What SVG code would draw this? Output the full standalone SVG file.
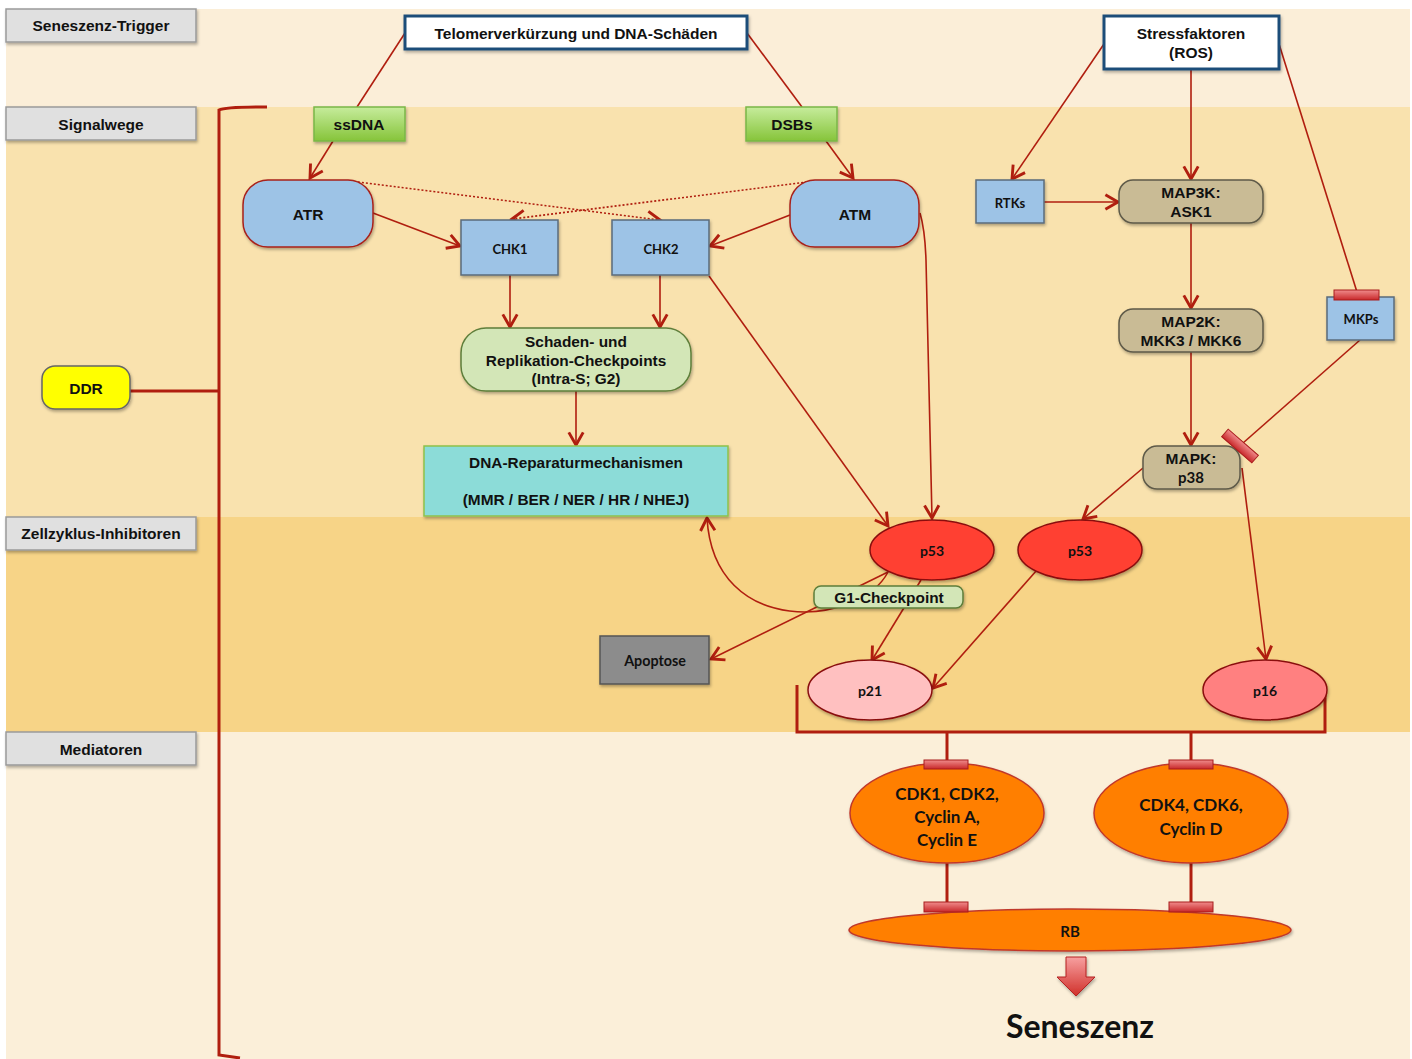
<svg xmlns="http://www.w3.org/2000/svg" width="1412" height="1059" viewBox="0 0 1412 1059">
<defs>
<style>
.lbl{fill:#E0E0E0;stroke:#9A9A9A;stroke-width:1.5}
.t{font-family:"Liberation Sans",Arial,sans-serif;font-weight:bold;fill:#111;text-anchor:middle}
.c{font-family:Lato,"Open Sans",sans-serif;font-weight:bold;fill:#111;text-anchor:middle}
.ln{stroke:#B01E0F;stroke-width:1.6;fill:none}
.blue{fill:#9DC3E6;stroke:#5B6B7B;stroke-width:1.5}
.tan{fill:#C9BB95;stroke:#5E5A48;stroke-width:1.5}
.green{fill:#D3E6B7;stroke:#5E7E3A;stroke-width:1.5}
.red{fill:#FF4133;stroke:#8A0F0F;stroke-width:1.5}
.org{fill:#FF7F00;stroke:#C0392B;stroke-width:1.5}
.bar{fill:url(#barg);stroke:#A81C1C;stroke-width:1}
</style>
<linearGradient id="gg" x1="0" y1="0" x2="0" y2="1"><stop offset="0" stop-color="#C6EC9C"/><stop offset="1" stop-color="#86C43A"/></linearGradient>
<linearGradient id="barg" x1="0" y1="0" x2="0" y2="1"><stop offset="0" stop-color="#F08C8C"/><stop offset="1" stop-color="#C8282A"/></linearGradient>
<linearGradient id="bigarr" x1="0" y1="0" x2="0" y2="1"><stop offset="0" stop-color="#F7A0A0"/><stop offset="1" stop-color="#D0302A"/></linearGradient>
<filter id="sh" x="-10%" y="-10%" width="130%" height="140%"><feDropShadow dx="1" dy="2" stdDeviation="1.5" flood-color="#000" flood-opacity="0.3"/></filter>
<marker id="ar" viewBox="0 0 20 20" refX="17" refY="10" markerWidth="18" markerHeight="18" markerUnits="userSpaceOnUse" orient="auto">
<path d="M3,2 L17,10 L3,18" fill="none" stroke="#B01E0F" stroke-width="3.2" stroke-linejoin="miter"/>
</marker>
</defs>
<rect x="0" y="0" width="1412" height="1059" fill="#FFFFFF"/>
<rect x="6" y="9" width="1404" height="98" fill="#FBEED8"/>
<rect x="6" y="107" width="1404" height="410" fill="#F9E2AE"/>
<rect x="6" y="517" width="1404" height="215" fill="#F7D487"/>
<rect x="6" y="732" width="1404" height="327" fill="#FBEFD9"/>

<g id="labels">
<g id="lbl-trigger"><rect class="lbl" x="6" y="9" width="190" height="33" filter="url(#sh)"/><text class="t" x="101" y="31" font-size="15.5">Seneszenz-Trigger</text></g>
<g id="lbl-signal"><rect class="lbl" x="6" y="107" width="190" height="33" filter="url(#sh)"/><text class="t" x="101" y="130" font-size="15.5">Signalwege</text></g>
<g id="lbl-zell"><rect class="lbl" x="6" y="517" width="190" height="33" filter="url(#sh)"/><text class="t" x="101" y="539" font-size="15.5">Zellzyklus-Inhibitoren</text></g>
<g id="lbl-med"><rect class="lbl" x="6" y="732" width="190" height="33" filter="url(#sh)"/><text class="t" x="101" y="755" font-size="15.5">Mediatoren</text></g>
</g>

<g id="connectors">
<path d="M267,107 Q225,107 219,110 L219,1055 L240,1058" fill="none" stroke="#B01E0F" stroke-width="3"/>
<line x1="130" y1="391" x2="219" y2="391" stroke="#B01E0F" stroke-width="3"/>
<line class="ln" x1="405" y1="33" x2="357" y2="107"/>
<line class="ln" x1="333" y1="141" x2="310" y2="178" marker-end="url(#ar)"/>
<line class="ln" x1="747" y1="33" x2="802" y2="107"/>
<line class="ln" x1="826" y1="141" x2="853" y2="178" marker-end="url(#ar)"/>
<line class="ln" x1="373" y1="213" x2="460" y2="246" marker-end="url(#ar)"/>
<line class="ln" x1="790" y1="215" x2="710" y2="246" marker-end="url(#ar)"/>
<line class="ln" x1="350" y1="181" x2="660" y2="220" stroke-dasharray="2,2" marker-end="url(#ar)"/>
<line class="ln" x1="815" y1="181" x2="512" y2="219" stroke-dasharray="2,2" marker-end="url(#ar)"/>
<line class="ln" x1="510" y1="275" x2="510" y2="327" marker-end="url(#ar)"/>
<line class="ln" x1="660" y1="275" x2="660" y2="327" marker-end="url(#ar)"/>
<line class="ln" x1="576" y1="391" x2="576" y2="445" marker-end="url(#ar)"/>
<line class="ln" x1="709" y1="276" x2="888" y2="526" marker-end="url(#ar)"/>
<path class="ln" d="M920,213 Q925,230 926,260 L932,518" marker-end="url(#ar)"/>
<path class="ln" d="M888,572 C860,626 714,640 707,518" marker-end="url(#ar)"/>
<line class="ln" x1="888" y1="572" x2="711" y2="659" marker-end="url(#ar)"/>
<line class="ln" x1="921" y1="580" x2="872" y2="660" marker-end="url(#ar)"/>
<line class="ln" x1="1037" y1="570" x2="933" y2="688" marker-end="url(#ar)"/>
<line class="ln" x1="1143" y1="468" x2="1083" y2="519" marker-end="url(#ar)"/>
<line class="ln" x1="1242" y1="468" x2="1266" y2="659" marker-end="url(#ar)"/>
<line class="ln" x1="1104" y1="44" x2="1012" y2="179" marker-end="url(#ar)"/>
<line class="ln" x1="1191" y1="69" x2="1191" y2="179" marker-end="url(#ar)"/>
<line class="ln" x1="1279" y1="44" x2="1357" y2="292"/>
<line class="ln" x1="1044" y1="202" x2="1118" y2="202" marker-end="url(#ar)"/>
<line class="ln" x1="1191" y1="223" x2="1191" y2="308" marker-end="url(#ar)"/>
<line class="ln" x1="1191" y1="352" x2="1191" y2="445" marker-end="url(#ar)"/>
<line class="ln" x1="1360" y1="340" x2="1243" y2="443"/>
<path d="M797,685 L797,732 L1325,732 L1325,690" fill="none" stroke="#B01E0F" stroke-width="3"/>
<line x1="947" y1="732" x2="947" y2="762" stroke="#B01E0F" stroke-width="3"/>
<line x1="1191" y1="732" x2="1191" y2="762" stroke="#B01E0F" stroke-width="3"/>
<line x1="947" y1="863" x2="947" y2="905" stroke="#B01E0F" stroke-width="3"/>
<line x1="1191" y1="863" x2="1191" y2="905" stroke="#B01E0F" stroke-width="3"/>
</g>

<g id="n-telomer"><rect x="405" y="16" width="342" height="33" fill="#FFFFFF" stroke="#1F4E79" stroke-width="3" filter="url(#sh)"/><text class="t" x="576" y="39" font-size="15.5">Telomerverkürzung und DNA-Schäden</text></g>
<g id="n-stress"><rect x="1104" y="16" width="175" height="53" fill="#FFFFFF" stroke="#1F4E79" stroke-width="3" filter="url(#sh)"/><text class="t" x="1191" y="39" font-size="15.5">Stressfaktoren</text><text class="t" x="1191" y="58" font-size="15.5">(ROS)</text></g>
<g id="n-ssdna"><rect x="314" y="107" width="91" height="34" fill="url(#gg)" stroke="#7AB648" stroke-width="1.5" filter="url(#sh)"/><text class="t" x="359" y="130" font-size="15.5">ssDNA</text></g>
<g id="n-dsbs"><rect x="746" y="107" width="91" height="34" fill="url(#gg)" stroke="#7AB648" stroke-width="1.5" filter="url(#sh)"/><text class="t" x="792" y="130" font-size="15.5">DSBs</text></g>
<g id="n-atr"><rect x="243" y="180" width="130" height="67" rx="25" fill="#9DC3E6" stroke="#A8201A" stroke-width="1.5" filter="url(#sh)"/><text class="t" x="308" y="220" font-size="15.5">ATR</text></g>
<g id="n-atm"><rect x="790" y="180" width="129" height="67" rx="25" fill="#9DC3E6" stroke="#A8201A" stroke-width="1.5" filter="url(#sh)"/><text class="t" x="855" y="220" font-size="15.5">ATM</text></g>
<g id="n-chk1"><rect class="blue" x="461" y="220" width="97" height="55" filter="url(#sh)"/><text class="c" x="510" y="254" font-size="13">CHK1</text></g>
<g id="n-chk2"><rect class="blue" x="612" y="220" width="97" height="55" filter="url(#sh)"/><text class="c" x="661" y="254" font-size="13">CHK2</text></g>
<g id="n-checkpoints"><rect class="green" x="461" y="328" width="230" height="63" rx="25" filter="url(#sh)"/><text class="t" x="576" y="347" font-size="15.4">Schaden- und</text><text class="t" x="576" y="366" font-size="15.4">Replikation-Checkpoints</text><text class="t" x="576" y="384" font-size="15.4">(Intra-S; G2)</text></g>
<g id="n-repair"><rect x="424" y="446" width="304" height="70" fill="#8CDCD8" stroke="#8FC14A" stroke-width="1.5" filter="url(#sh)"/><text class="t" x="576" y="468" font-size="15.4">DNA-Reparaturmechanismen</text><text class="t" x="576" y="505" font-size="15.4">(MMR / BER / NER / HR / NHEJ)</text></g>
<g id="n-ddr"><rect x="42" y="366" width="88" height="43" rx="13" fill="#FFFF00" stroke="#666" stroke-width="1.5" filter="url(#sh)"/><text class="t" x="86" y="394" font-size="15.5">DDR</text></g>
<g id="n-rtks"><rect class="blue" x="976" y="180" width="68" height="43" filter="url(#sh)"/><text class="c" x="1010" y="208" font-size="13">RTKs</text></g>
<g id="n-map3k"><rect class="tan" x="1119" y="180" width="144" height="43" rx="14" filter="url(#sh)"/><text class="t" x="1191" y="198" font-size="15.5">MAP3K:</text><text class="t" x="1191" y="217" font-size="15.5">ASK1</text></g>
<g id="n-map2k"><rect class="tan" x="1119" y="309" width="144" height="43" rx="14" filter="url(#sh)"/><text class="t" x="1191" y="327" font-size="15.5">MAP2K:</text><text class="t" x="1191" y="346" font-size="15.5">MKK3 / MKK6</text></g>
<g id="n-mapk"><rect class="tan" x="1143" y="446" width="97" height="43" rx="14" filter="url(#sh)"/><text class="t" x="1191" y="464" font-size="15.5">MAPK:</text><text class="c" x="1191" y="483" font-size="15">p38</text></g>
<g id="n-mkps"><rect class="blue" x="1327" y="297" width="67" height="43" filter="url(#sh)"/><text class="c" x="1361" y="324" font-size="13">MKPs</text><rect class="bar" x="1334" y="290" width="45" height="10"/></g>
<g id="inh-mapk"><rect class="bar" x="-20" y="-5" width="40" height="10" transform="translate(1240,446) rotate(41)"/></g>
<g id="n-p53a"><ellipse class="red" cx="932" cy="550" rx="62" ry="30" filter="url(#sh)"/><text class="c" x="932" y="556" font-size="14">p53</text></g>
<g id="n-p53b"><ellipse class="red" cx="1080" cy="550" rx="62" ry="30" filter="url(#sh)"/><text class="c" x="1080" y="556" font-size="14">p53</text></g>
<g id="n-g1"><rect class="green" x="814" y="586" width="149" height="22" rx="7" filter="url(#sh)"/><text class="t" x="889" y="603" font-size="15.4">G1-Checkpoint</text></g>
<g id="n-apoptose"><rect x="600" y="636" width="109" height="48" fill="#8C8C8C" stroke="#555" stroke-width="1.5" filter="url(#sh)"/><text class="c" x="655" y="666" font-size="14.3">Apoptose</text></g>
<g id="n-p21"><ellipse cx="870" cy="690" rx="62" ry="30" fill="#FFC0C0" stroke="#8A0F0F" stroke-width="1.5" filter="url(#sh)"/><text class="c" x="870" y="696" font-size="14">p21</text></g>
<g id="n-p16"><ellipse cx="1265" cy="690" rx="62" ry="30" fill="#FF8080" stroke="#8A0F0F" stroke-width="1.5" filter="url(#sh)"/><text class="c" x="1265" y="696" font-size="14">p16</text></g>
<g id="n-cdk12"><ellipse class="org" cx="947" cy="813" rx="97" ry="50" filter="url(#sh)"/><text class="c" x="947" y="800" font-size="17">CDK1, CDK2,</text><text class="c" x="947" y="823" font-size="17">Cyclin A,</text><text class="c" x="947" y="846" font-size="17">Cyclin E</text><rect class="bar" x="924" y="760" width="44" height="9"/></g>
<g id="n-cdk46"><ellipse class="org" cx="1191" cy="813" rx="97" ry="50" filter="url(#sh)"/><text class="c" x="1191" y="811" font-size="17">CDK4, CDK6,</text><text class="c" x="1191" y="835" font-size="17">Cyclin D</text><rect class="bar" x="1169" y="760" width="44" height="9"/></g>
<g id="n-rb"><ellipse class="org" cx="1070" cy="930" rx="221" ry="21" filter="url(#sh)"/><text class="c" x="1070" y="937" font-size="15">RB</text><rect class="bar" x="924" y="902" width="44" height="10"/><rect class="bar" x="1169" y="902" width="44" height="10"/></g>
<g id="n-senarrow"><path d="M1066,957 L1086,957 L1086,977 L1095,977 L1076,996 L1057,977 L1066,977 Z" fill="url(#bigarr)" stroke="#B52020" stroke-width="1" filter="url(#sh)"/></g>
<g id="n-seneszenz"><text class="c" x="1080" y="1038" font-size="32">Seneszenz</text></g>
</svg>
